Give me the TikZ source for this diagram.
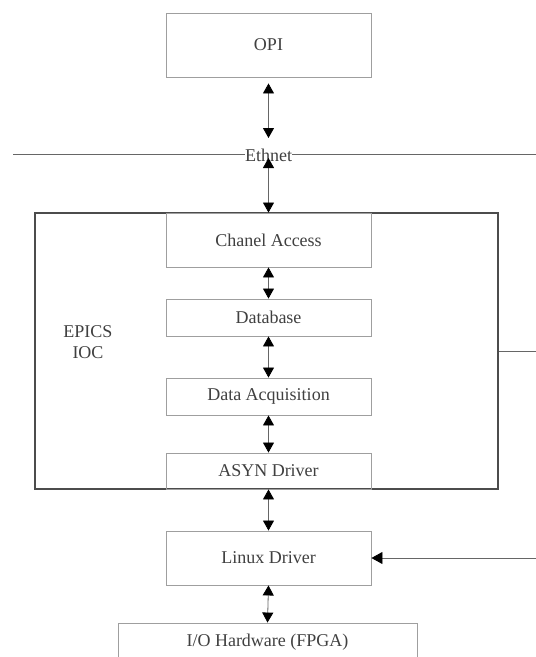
\documentclass[tikz,border=0pt]{standalone}
\usepackage{fontspec}
\setmainfont{Liberation Serif}
\usetikzlibrary{arrows.meta}
\begin{document}
\begin{tikzpicture}[x=1pt,y=-1pt,
  box/.style={draw=gray!75, line width=0.9pt, minimum width=205pt, inner sep=0pt, text=black!75, font=\fontsize{18}{21}\selectfont},
  lbl/.style={text=black!75, font=\fontsize{18}{21}\selectfont, inner sep=1pt},
  link/.style={draw=gray!80!black, line width=0.8pt, {Triangle[width=11pt,length=10pt,color=black]}-{Triangle[width=11pt,length=10pt,color=black]}},
  rarrow/.style={draw=gray!80!black, line width=0.8pt, -{Triangle[width=12pt,length=11pt,color=black]}},
  plain/.style={draw=gray!80!black, line width=0.8pt}]
\useasboundingbox (0,0) rectangle (536,657);
\clip (0,0) rectangle (536,657);
\fill[white] (0,0) rectangle (536,657);

% outer EPICS IOC box
\node[draw=black!70, line width=1.4pt, minimum width=463pt, minimum height=276pt, inner sep=0pt] (ioc) at (266.5,351) {};
\node[lbl, align=center] (ioclbl) at (88,342) {EPICS\\IOC};

\node[box, minimum height=64pt] (opi) at (268.5,45) {OPI};
\node[box, minimum height=54pt] (ca) at (268.5,240) {Chanel Access};
\node[box, minimum height=37pt] (db) at (268.5,317.5) {Database};
\node[box, minimum height=37pt] (daq) at (268.5,396.5) {Data Acquisition};
\node[box, minimum height=36pt] (asyn) at (268.5,471) {ASYN Driver};
\node[box, minimum height=54pt] (lin) at (268.5,558) {Linux Driver};
\node[box, minimum width=299pt, minimum height=54pt] (io) at (267.5,650) {};
\node[lbl] (iolbl) at (267.5,642) {I/O Hardware (FPGA)};

% Ethernet line
\node[lbl, inner sep=0pt, fill=white] (eth) at (268.5,155) {Ethnet};
\coordinate (ethL) at (13,154);
\coordinate (ethR) at (536,154);
\coordinate (ethC) at (268.5,154);
\draw[plain] (ethL) -- (ethL -| eth.west);
\draw[plain] (ethR -| eth.east) -- (ethR);

% vertical links
\draw[link, shorten <=6pt, shorten >=16pt] (opi.south) -- (ethC);
\draw[link, shorten <=4pt] (ethC) -- (ca.north);
\draw[link] (ca.south) -- (db.north);
\draw[link] (db.south) -- (daq.north);
\draw[link] (daq.south) -- (asyn.north);
\draw[link] (asyn.south) -- (lin.north);
\draw[link] (lin.south) -- (io.north);

% right side lines
\coordinate (r1) at (536,351);
\coordinate (r2) at (536,558);
\draw[plain] (ioc.east) -- (r1);
\draw[rarrow] (r2) -- (lin.east);
\end{tikzpicture}
\end{document}
